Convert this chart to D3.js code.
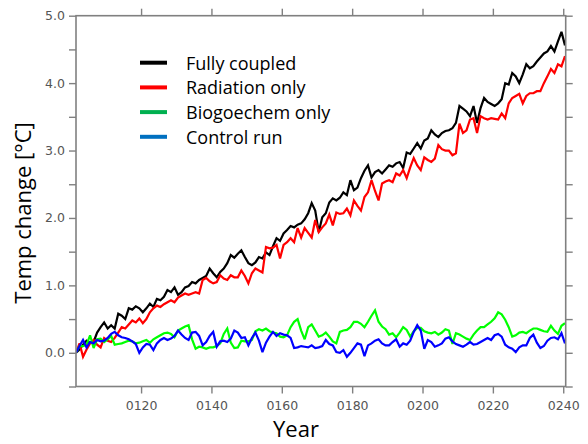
<!DOCTYPE html>
<html>
<head>
<meta charset="utf-8">
<script src="https://cdn.jsdelivr.net/npm/d3@7"></script>
<style>
  html, body { margin: 0; padding: 0; background: #fff; }
  svg { display: block; }
</style>
</head>
<body>
<div id="chart"></div>
<script>
// ---- data (annual means) ----------------------------------------------------
const years = d3.range(140).map((i) => 101.5 + i);

const fullyCoupled = [
  0.00, 0.05, 0.12, 0.18, 0.15, 0.16, 0.30, 0.38, 0.45, 0.36,
  0.41, 0.36, 0.58, 0.55, 0.50, 0.66, 0.64, 0.69, 0.66, 0.60,
  0.66, 0.73, 0.68, 0.80, 0.78, 0.83, 0.93, 0.90, 0.97, 0.86,
  0.90, 0.97, 0.99, 1.05, 1.03, 1.08, 1.11, 1.14, 1.25, 1.18,
  1.12, 1.20, 1.25, 1.33, 1.45, 1.41, 1.47, 1.52, 1.42, 1.33,
  1.30, 1.34, 1.42, 1.40, 1.49, 1.45, 1.58, 1.70, 1.66, 1.77,
  1.82, 1.88, 1.86, 1.90, 1.92, 1.98, 2.07, 2.22, 2.11, 1.79,
  2.01, 2.07, 2.23, 2.29, 2.26, 2.30, 2.38, 2.34, 2.56, 2.41,
  2.45, 2.59, 2.70, 2.78, 2.60, 2.68, 2.71, 2.66, 2.72, 2.78,
  2.76, 2.81, 2.83, 2.74, 2.97, 2.95, 3.03, 3.11, 3.03, 3.15,
  3.18, 3.30, 3.24, 3.20, 3.26, 3.29, 3.30, 3.33, 3.41, 3.66,
  3.62, 3.58, 3.51, 3.66, 3.41, 3.63, 3.78, 3.72, 3.69, 3.66,
  3.70, 3.76, 4.00, 3.98, 4.15, 4.10, 4.00, 4.13, 4.28, 4.22,
  4.25, 4.32, 4.38, 4.44, 4.47, 4.55, 4.47, 4.62, 4.76, 4.56
];
const radiationOnly = [
  0.00, 0.14, -0.06, 0.05, 0.14, 0.19, 0.12, 0.08, 0.22, 0.18,
  0.16, 0.22, 0.30, 0.38, 0.36, 0.42, 0.48, 0.45, 0.51, 0.44,
  0.50, 0.60, 0.66, 0.70, 0.68, 0.72, 0.75, 0.78, 0.75, 0.82,
  0.85, 0.88, 0.86, 0.88, 0.90, 0.88, 1.08, 1.11, 1.06, 1.03,
  1.05, 1.15, 1.10, 1.08, 1.15, 1.12, 1.12, 1.22, 1.14, 1.03,
  1.18, 1.25, 1.22, 1.19, 1.57, 1.55, 1.56, 1.60, 1.40, 1.60,
  1.64, 1.70, 1.64, 1.85, 1.71, 1.85, 1.78, 1.71, 1.97, 1.79,
  1.86, 1.92, 2.05, 1.89, 2.08, 2.06, 2.07, 2.14, 2.04, 2.26,
  2.18, 2.11, 2.31, 2.38, 2.56, 2.40, 2.26, 2.51, 2.54, 2.56,
  2.53, 2.66, 2.63, 2.71, 2.59, 2.75, 2.89, 2.78, 2.71, 2.90,
  2.86, 2.83, 2.88, 3.08, 3.02, 3.00, 3.00, 2.93, 2.96, 3.40,
  3.26, 3.30, 3.46, 3.48, 3.26, 3.51, 3.48, 3.46, 3.48, 3.47,
  3.46, 3.55, 3.48, 3.70, 3.78, 3.81, 3.84, 3.70, 3.81, 3.85,
  3.85, 3.88, 3.88, 4.00, 4.10, 4.21, 4.15, 4.28, 4.25, 4.40
];
const biogeochemOnly = [
  0.00, 0.10, 0.10, 0.12, 0.26, 0.07, 0.20, 0.21, 0.16, 0.20,
  0.25, 0.12, 0.13, 0.14, 0.16, 0.18, 0.17, 0.14, 0.15, 0.17,
  0.19, 0.15, 0.20, 0.23, 0.26, 0.29, 0.30, 0.28, 0.23, 0.33,
  0.36, 0.39, 0.41, 0.20, 0.06, 0.09, 0.08, 0.06, 0.08, 0.08,
  0.10, 0.14, 0.28, 0.36, 0.15, 0.07, 0.08, 0.18, 0.17, 0.17,
  0.19, 0.32, 0.35, 0.33, 0.36, 0.32, 0.30, 0.29, 0.24, 0.23,
  0.26, 0.38, 0.46, 0.50, 0.33, 0.20, 0.38, 0.42, 0.33, 0.24,
  0.26, 0.30, 0.24, 0.17, 0.14, 0.31, 0.33, 0.34, 0.38, 0.46,
  0.46, 0.43, 0.38, 0.46, 0.55, 0.63, 0.46, 0.39, 0.35, 0.27,
  0.29, 0.23, 0.30, 0.38, 0.34, 0.24, 0.32, 0.37, 0.37, 0.32,
  0.30, 0.29, 0.31, 0.27, 0.30, 0.35, 0.33, 0.13, 0.29, 0.27,
  0.24, 0.21, 0.19, 0.27, 0.33, 0.38, 0.38, 0.42, 0.46, 0.51,
  0.60, 0.57, 0.49, 0.38, 0.24, 0.26, 0.30, 0.31, 0.29, 0.33,
  0.36, 0.36, 0.34, 0.32, 0.31, 0.40, 0.33, 0.28, 0.40, 0.44
];
const controlRun = [
  0.00, 0.10, 0.19, 0.08, 0.16, 0.14, 0.19, 0.17, 0.18, 0.22,
  0.28, 0.31, 0.26, 0.23, 0.22, 0.20, 0.17, 0.13, 0.00, 0.08,
  0.13, 0.12, 0.04, 0.14, 0.19, 0.22, 0.19, 0.21, 0.25, 0.33,
  0.27, 0.22, 0.19, 0.30, 0.31, 0.25, 0.11, 0.16, 0.25, 0.31,
  0.09, 0.17, 0.18, 0.16, 0.21, 0.33, 0.30, 0.22, 0.23, 0.11,
  0.22, 0.30, 0.18, 0.01, 0.15, 0.24, 0.31, 0.25, 0.29, 0.27,
  0.26, 0.22, 0.07, 0.08, 0.10, 0.09, 0.08, 0.11, 0.07, 0.08,
  0.10, 0.19, 0.13, 0.11, 0.01, 0.00, 0.04, -0.06, 0.00, 0.07,
  0.14, 0.12, -0.05, 0.11, 0.14, 0.18, 0.20, 0.14, 0.11, 0.11,
  0.16, 0.20, 0.09, 0.14, 0.12, 0.18, 0.31, 0.41, 0.33, 0.06,
  0.19, 0.16, 0.09, 0.11, 0.14, 0.21, 0.23, 0.17, 0.13, 0.11,
  0.09, 0.12, 0.16, 0.12, 0.13, 0.16, 0.19, 0.22, 0.19, 0.26,
  0.28, 0.24, 0.12, 0.08, 0.06, 0.01, 0.08, 0.11, 0.11, 0.22,
  0.27, 0.15, 0.07, 0.10, 0.18, 0.22, 0.23, 0.20, 0.29, 0.14
];

const seriesNames = ["Fully coupled", "Radiation only", "Biogoechem only", "Control run"];
const seriesValues = [fullyCoupled, radiationOnly, biogeochemOnly, controlRun];
const lineColors = ["#000000", "#ff0000", "#00ff00", "#0000ff"];
const legendColors = ["#000000", "#ff0000", "#00b050", "#0070c0"];

const xTicks = [120, 140, 160, 180, 200, 220, 240];
const yTicks = d3.range(-0.5, 5.01, 0.5);
const yLabelTicks = [0, 1, 2, 3, 4, 5];

// ---- layout -----------------------------------------------------------------
const W = 588, H = 444;
const L = 76, R = 565.7, T = 15.7, B = 386.5;
const TICK = 7;
const AXIS_COL = "#808080";
const LABEL_FONT = '12.5px "DejaVu Sans", sans-serif';
const TITLE_FONT = '22px "Open Sans", sans-serif';
const LEGEND_FONT = '18px "Open Sans", sans-serif';

const x = d3.scaleLinear().domain([101.5, 240.7]).range([L, R]);
const y = d3.scaleLinear().domain([-0.5, 5.0]).range([B, T]);

const svg = d3.select("#chart").append("svg").attr("width", W).attr("height", H);

// ---- lines ------------------------------------------------------------------
const lineGen = d3.line().x((d) => x(d[0])).y((d) => y(d[1]));
svg.append("defs").append("clipPath").attr("id", "plot-clip")
  .append("rect").attr("x", L).attr("y", T).attr("width", R - L).attr("height", B - T);

svg.append("g")
  .attr("clip-path", "url(#plot-clip)")
  .selectAll("path")
  .data(seriesValues)
  .join("path")
  .attr("d", (vals) => lineGen(years.map((yr, i) => [yr, vals[i]])))
  .attr("fill", "none")
  .attr("stroke", (d, i) => lineColors[i])
  .attr("stroke-width", 2.2)
  .attr("stroke-linejoin", "miter")
  .attr("stroke-miterlimit", 3);

// ---- axes: outward ticks mirrored on all four sides -------------------------
const styleAxis = (g) => {
  g.select(".domain").remove();
  g.selectAll(".tick line").attr("stroke", AXIS_COL).attr("stroke-width", 1.4);
  g.selectAll(".tick text").attr("fill", "#555").style("font", LABEL_FONT);
};

svg.append("g")
  .attr("transform", `translate(0,${B})`)
  .call(d3.axisBottom(x).tickValues(xTicks).tickSize(TICK).tickPadding(8)
    .tickFormat((d) => d3.format("04d")(d)))
  .call(styleAxis);
svg.append("g")
  .attr("transform", `translate(0,${T})`)
  .call(d3.axisTop(x).tickValues(xTicks).tickSize(TICK).tickFormat(""))
  .call(styleAxis);
svg.append("g")
  .attr("transform", `translate(${L},0)`)
  .call(d3.axisLeft(y).tickValues(yTicks).tickSize(TICK).tickPadding(4)
    .tickFormat((d) => (yLabelTicks.includes(Math.round(d * 10) / 10) ? d3.format(".1f")(d) : "")))
  .call(styleAxis);
svg.append("g")
  .attr("transform", `translate(${R},0)`)
  .call(d3.axisRight(y).tickValues(yTicks).tickSize(TICK).tickFormat(""))
  .call(styleAxis);

svg.append("rect")
  .attr("x", L).attr("y", T).attr("width", R - L).attr("height", B - T)
  .attr("fill", "none").attr("stroke", AXIS_COL).attr("stroke-width", 1.6);

// ---- titles -----------------------------------------------------------------
svg.append("text")
  .attr("x", 296).attr("y", 437)
  .attr("text-anchor", "middle")
  .attr("fill", "#000").style("font", TITLE_FONT)
  .text("Year");
svg.append("text")
  .attr("transform", "translate(31,213) rotate(-90)")
  .attr("text-anchor", "middle")
  .attr("fill", "#000").style("font", TITLE_FONT)
  .text("Temp change [°C]");

// ---- legend -----------------------------------------------------------------
const legend = svg.append("g").selectAll("g")
  .data(seriesNames)
  .join("g")
  .attr("transform", (d, i) => `translate(140,${62.7 + i * 24.7})`);
legend.append("line")
  .attr("x1", 0).attr("x2", 27).attr("y1", 0).attr("y2", 0)
  .attr("stroke", (d, i) => legendColors[i]).attr("stroke-width", 4);
legend.append("text")
  .attr("x", 46).attr("y", 0)
  .attr("dominant-baseline", "central")
  .attr("fill", "#000").style("font", LEGEND_FONT)
  .text((d) => d);
</script>
</body>
</html>
